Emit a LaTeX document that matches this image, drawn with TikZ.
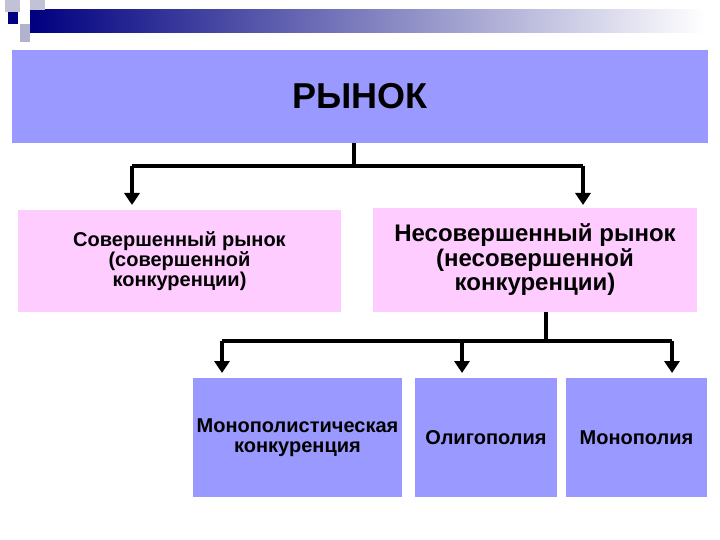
\documentclass[tikz,border=0pt]{standalone}
\usepackage{fontspec}
\setmainfont{Liberation Sans}
\usetikzlibrary{arrows.meta}
\definecolor{blu}{RGB}{153,153,255}
\definecolor{pnk}{RGB}{255,204,255}
\begin{document}
\begin{tikzpicture}[x=1pt,y=-1pt,
    box/.style={draw=none, inner sep=0pt, align=center, font=\bfseries},
    conn/.style={line width=3.5pt, -{Triangle[length=12pt,width=15pt]}}]
    \useasboundingbox (0,0) rectangle (720,540);
    % heading bar
    \shade[left color=blue!50!black, right color=white] (30,10) rectangle (705,33);
    \fill[blue!20!gray!40] (5,0) rectangle (20,12);
    \fill[blue!20!gray!40] (30,0) rectangle (45,10);
    \fill[blue!50!black] (8,12) rectangle (18,24);
    \fill[blue!20!gray!50] (20,24) rectangle (30,42);
    % boxes
    \node[box, fill=blu, minimum width=696, minimum height=93, font=\bfseries\fontsize{36}{40}\selectfont] (rynok) at (360,96.5) {РЫНОК};
    \node[box, fill=pnk, minimum width=323, minimum height=102, font=\bfseries\fontsize{20}{20}\selectfont] (sover) at (179.5,261) {Совершенный рынок\\(совершенной\\конкуренции)};
    \node[box, fill=pnk, minimum width=324, minimum height=104, font=\bfseries\fontsize{24}{24.5}\selectfont] (nesover) at (535,260) {Несовершенный рынок\\(несовершенной\\конкуренции)};
    \node[box, fill=blu, minimum width=209, minimum height=119, font=\bfseries\fontsize{20}{20}\selectfont] (monkon) at (297.5,437.5) {Монополистическая\\конкуренция};
    \node[box, fill=blu, minimum width=142, minimum height=119, font=\bfseries\fontsize{20}{24}\selectfont] (oligo) at (486,437.5) {Олигополия};
    \node[box, fill=blu, minimum width=141, minimum height=119, font=\bfseries\fontsize{20}{24}\selectfont] (monop) at (636.5,437.5) {Монополия};
    % connectors
    \coordinate (t1) at (354,166);
    \coordinate (t2) at (546,341);
    \draw[line width=3.5pt] (rynok.south -| t1) -- (t1);
    \draw[line width=3.5pt] (132,166) -- (583,166);
    \draw[conn] (132,166) -- (132,205);
    \draw[conn] (583,166) -- (583,205);
    \draw[line width=3.5pt] (nesover.south -| t2) -- (t2);
    \draw[line width=3.5pt] (222,341) -- (672,341);
    \draw[conn] (222,341) -- (222,373);
    \draw[conn] (462,341) -- (462,373);
    \draw[conn] (672,341) -- (672,373);
\end{tikzpicture}
\end{document}
